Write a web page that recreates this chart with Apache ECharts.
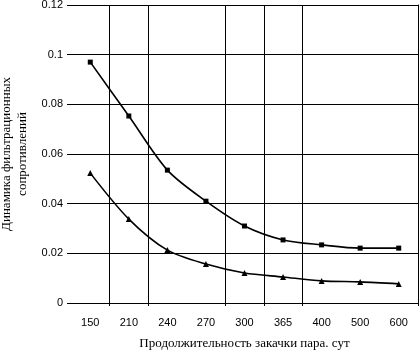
<!DOCTYPE html>
<html>
<head>
<meta charset="utf-8">
<script src="https://cdn.jsdelivr.net/npm/echarts@6/dist/echarts.min.js"></script>
<style>
  html, body { margin: 0; padding: 0; background: #fff; }
  #main { width: 420px; height: 353px; }
</style>
</head>
<body>
<div id="main"></div>
<script>
// данные
const days = ['150', '210', '240', '270', '300', '365', '400', '500', '600'];
const upperSeries = [0.097, 0.0753, 0.0535, 0.041, 0.031, 0.0254, 0.0234, 0.0221, 0.0221];
const lowerSeries = [0.0523, 0.0338, 0.0213, 0.0157, 0.0121, 0.0105, 0.0089, 0.0085, 0.0077];
// категории, у левой границы которых стоит вертикальная линия сетки
const gridAt = [1, 2, 4, 5, 6];

const myChart = echarts.init(document.getElementById('main'));

const vLine = (idx) => gridAt.indexOf(idx) >= 0;

myChart.setOption({
  animation: false,
  grid: { left: 71, right: 2, top: 5, bottom: 50, outerBoundsMode: 'none', containLabel: false },
  xAxis: {
    type: 'category',
    data: days,
    boundaryGap: true,
    name: 'Продолжительность закачки пара. сут',
    nameLocation: 'middle',
    nameGap: 34,
    nameTextStyle: { fontFamily: 'Liberation Serif', fontSize: 13, color: '#000' },
    axisLine: { lineStyle: { color: '#000', width: 1 } },
    axisTick: { show: true, length: 3, interval: vLine, lineStyle: { color: '#000' } },
    axisLabel: { interval: 0, margin: 14, fontFamily: 'Liberation Sans', fontSize: 11, color: '#000' },
    splitLine: { show: true, interval: vLine, lineStyle: { color: '#000', width: 1 } }
  },
  yAxis: [
    {
      type: 'value',
      min: 0,
      max: 0.12,
      interval: 0.02,
      name: 'Динамика фильтрационных\nсопротивлений',
      nameLocation: 'middle',
      nameGap: 31,
      nameRotate: 90,
      nameTextStyle: { fontFamily: 'Liberation Serif', fontSize: 13, color: '#000', lineHeight: 16 },
      axisLine: { show: false },
      axisTick: { show: true, length: 4, lineStyle: { color: '#000' } },
      axisLabel: {
        margin: 8, fontFamily: 'Liberation Sans', fontSize: 11, color: '#000',
        formatter: (v) => (v === 0 ? '0' : String(+v.toFixed(2)))
      },
      splitLine: { show: true, lineStyle: { color: '#000', width: 1 } }
    },
    {
      // правая рамка
      type: 'value',
      position: 'right',
      min: 0,
      max: 0.12,
      interval: 0.02,
      axisLine: { show: true, lineStyle: { color: '#000', width: 1 } },
      axisTick: { show: false },
      axisLabel: { show: false },
      splitLine: { show: false }
    }
  ],
  series: [
    {
      name: 'upper',
      type: 'line',
      data: upperSeries,
      smooth: 0.3,
      symbol: 'rect',
      symbolSize: 5,
      itemStyle: { color: '#000' },
      lineStyle: { color: '#000', width: 1.6 }
    },
    {
      name: 'lower',
      type: 'line',
      data: lowerSeries,
      smooth: 0.3,
      symbol: 'triangle',
      symbolSize: 6,
      itemStyle: { color: '#000' },
      lineStyle: { color: '#000', width: 1.6 }
    }
  ]
});

window.addEventListener('resize', () => {
  myChart.resize();
});
</script>
</body>
</html>
